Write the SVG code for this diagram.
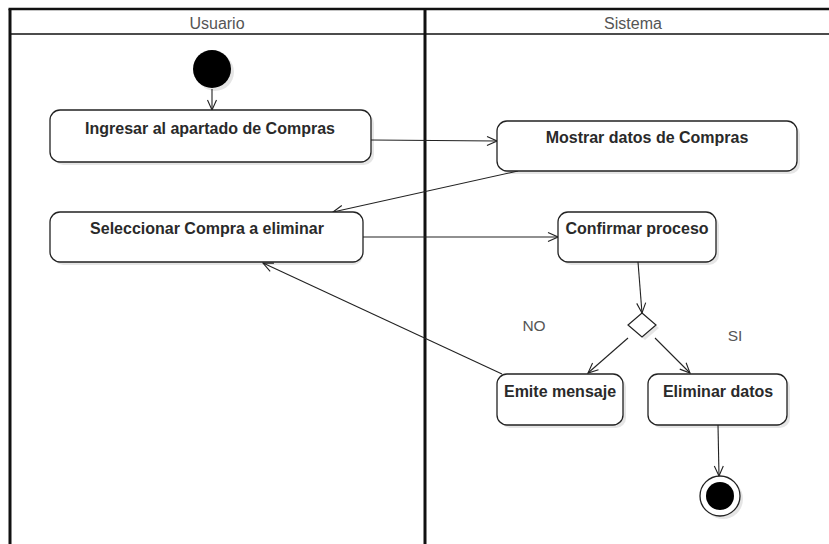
<svg xmlns="http://www.w3.org/2000/svg" width="829" height="544" viewBox="0 0 829 544">
  <defs>
    <style>
      .lane { fill: none; stroke: #111; }
      .lane-title { font-family: "Liberation Sans", Arial, sans-serif; font-size: 16px; fill: #555; text-anchor: middle; }
      .act { fill: #fff; stroke: #222; stroke-width: 1.3; }
      .shadow { fill: #000; opacity: 0.1; }
      .label { font-family: "Liberation Sans", Arial, sans-serif; font-size: 16px; font-weight: bold; fill: #2a2a2a; text-anchor: middle; }
      .guard { font-family: "Liberation Sans", Arial, sans-serif; font-size: 15.5px; fill: #555; text-anchor: middle; }
      .edge { fill: none; stroke: #222; stroke-width: 1.1; marker-end: url(#open); }
    </style>
    <marker id="open" viewBox="0 0 12 12" refX="11" refY="6" markerWidth="12" markerHeight="12" markerUnits="userSpaceOnUse" orient="auto">
      <path d="M1,1.5 L11,6 L1,10.5" fill="none" stroke="#222" stroke-width="1.1"/>
    </marker>
  </defs>

  <rect width="829" height="544" fill="#fff"/>

  <!-- swimlane frame -->
  <g id="lanes">
    <line class="lane" x1="8.5" y1="9" x2="829" y2="9" stroke-width="2.5"/>
    <line class="lane" x1="10" y1="9" x2="10" y2="544" stroke-width="3"/>
    <line class="lane" x1="425" y1="9" x2="425" y2="544" stroke-width="3"/>
    <line class="lane" x1="10" y1="34" x2="829" y2="34" stroke-width="1.5"/>
    <text class="lane-title" x="217" y="29">Usuario</text>
    <text class="lane-title" x="633" y="29">Sistema</text>
  </g>

  <!-- connectors -->
  <g id="connectors">
    <line class="edge" x1="212" y1="89" x2="212" y2="110"/>
    <line class="edge" x1="371" y1="140" x2="497" y2="141"/>
    <line class="edge" x1="518" y1="171" x2="333" y2="212"/>
    <line class="edge" x1="363" y1="237" x2="558" y2="237"/>
    <line class="edge" x1="638" y1="262" x2="642" y2="313"/>
    <line class="edge" x1="628" y1="338" x2="588" y2="373"/>
    <line class="edge" x1="655" y1="338" x2="690" y2="373"/>
    <line class="edge" x1="502" y1="374" x2="263" y2="263"/>
    <line class="edge" x1="718" y1="425" x2="719" y2="476"/>
  </g>

  <g id="start">
    <circle cx="215" cy="72" r="19" class="shadow"/>
    <circle cx="212" cy="69" r="19" fill="#000"/>
  </g>

  <g id="ingresar">
    <rect class="shadow" x="53" y="113" width="321" height="52" rx="10"/>
    <rect class="act" x="50" y="110" width="321" height="52" rx="10"/>
    <text class="label" x="210" y="134">Ingresar al apartado de Compras</text>
  </g>

  <g id="mostrar">
    <rect class="shadow" x="500" y="124" width="300" height="50" rx="10"/>
    <rect class="act" x="497" y="121" width="300" height="50" rx="10"/>
    <text class="label" x="647" y="143">Mostrar datos de Compras</text>
  </g>

  <g id="seleccionar">
    <rect class="shadow" x="53" y="215" width="310" height="50" rx="10"/>
    <rect class="act" x="50" y="212" width="313" height="50" rx="10"/>
    <text class="label" x="207" y="234">Seleccionar Compra a eliminar</text>
  </g>

  <g id="confirmar">
    <rect class="shadow" x="561" y="215" width="158" height="50" rx="10"/>
    <rect class="act" x="558" y="212" width="158" height="50" rx="10"/>
    <text class="label" x="637" y="234">Confirmar proceso</text>
  </g>

  <g id="decision">
    <path class="shadow" d="M645,316 L659,328 L645,340 L631,328 Z"/>
    <path d="M642,313 L656,325 L642,337 L628,325 Z" fill="#fff" stroke="#222" stroke-width="1.2"/>
    <text class="guard" x="534" y="331">NO</text>
    <text class="guard" x="735" y="341">SI</text>
  </g>

  <g id="emite">
    <rect class="shadow" x="500" y="377" width="126" height="51" rx="10"/>
    <rect class="act" x="497" y="374" width="126" height="51" rx="10"/>
    <text class="label" x="560" y="397">Emite mensaje</text>
  </g>

  <g id="eliminar">
    <rect class="shadow" x="651" y="377" width="139" height="51" rx="10"/>
    <rect class="act" x="648" y="374" width="139" height="51" rx="10"/>
    <text class="label" x="718" y="397">Eliminar datos</text>
  </g>

  <g id="end">
    <circle cx="723" cy="499" r="20" class="shadow"/>
    <circle cx="720" cy="496" r="20" fill="#fff" stroke="#222" stroke-width="1.3"/>
    <circle cx="720" cy="496" r="14" fill="#000"/>
  </g>
</svg>
